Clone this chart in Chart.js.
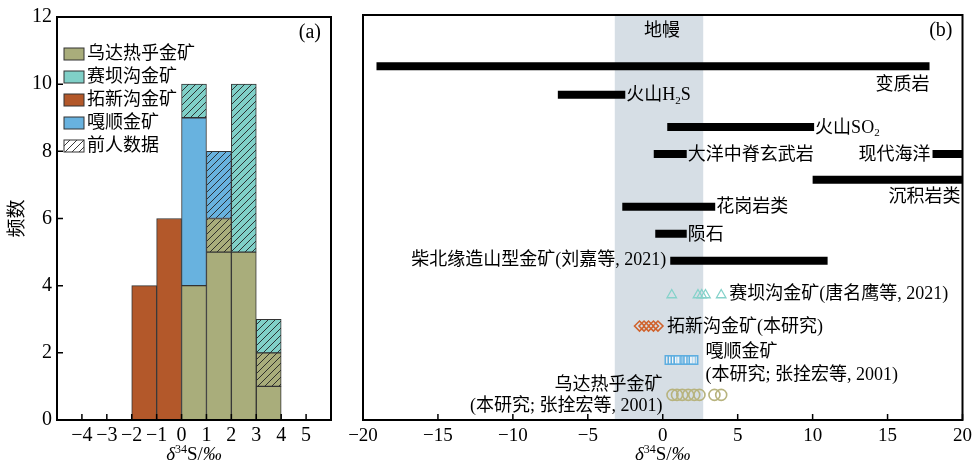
<!DOCTYPE html>
<html>
<head>
<meta charset="utf-8">
<script src="https://cdn.jsdelivr.net/npm/chart.js@4.4.1/dist/chart.umd.min.js"></script>
<style>
  html, body { margin: 0; padding: 0; background: #fff; }
  #wrap { position: relative; width: 977px; height: 469px; }
  #ca { position: absolute; left: 0; top: 0; }
  #cb { position: absolute; left: 340px; top: 0; }
</style>
</head>
<body>
<div id="wrap">
  <canvas id="ca" width="340" height="469"></canvas>
  <canvas id="cb" width="637" height="469"></canvas>
</div>
<script>
const SERIF = '"Liberation Serif", "Noto Sans CJK SC", serif';

// ---- (a) histogram data
const binCenters = [-1.5, -0.5, 0.5, 1.5, 2.5, 3.5];
const tuoxinCount = [4, 6, 0, 0, 0, 0];
const wudaCount = [0, 0, 4, 5, 5, 1];
const wudaPrevCount = [0, 0, 0, 1, 0, 1];
const gashunCount = [0, 0, 5, 0, 0, 0];
const gashunPrevCount = [0, 0, 0, 2, 0, 0];
const saibaPrevCount = [0, 0, 1, 0, 5, 1];
const xTicksA = [-4, -3, -2, -1, 0, 1, 2, 3, 4, 5];
const yTicksA = [0, 2, 4, 6, 8, 10, 12];
const legendNames = ['乌达热乎金矿', '赛坝沟金矿', '拓新沟金矿', '嘎顺金矿', '前人数据'];

// ---- (b) ranges and samples
const rangeNames = ['变质岩', '火山H2S', '火山SO2', '大洋中脊玄武岩', '现代海洋', '沉积岩类', '花岗岩类', '陨石', '柴北缘造山型金矿(刘嘉等, 2021)'];
const rangeMin = [-19.1, -7.0, 0.3, -0.6, 18.0, 10.0, -2.7, -0.5, 0.5];
const rangeMax = [17.8, -2.5, 10.1, 1.6, 20.0, 20.0, 3.5, 1.6, 11.0];
const rangeRow = [13.1, 12.05, 10.85, 9.85, 9.85, 8.9, 7.9, 6.9, 5.9];
const mantleRange = [-3.2, 2.7];
const saibaValues = [0.6, 2.35, 2.6, 2.85, 3.9];
const tuoxinValues = [-1.55, -1.25, -0.95, -0.62, -0.32];
const gashunValues = [0.45, 0.65, 0.85, 1.05, 1.5, 1.7, 1.9, 2.05];
const wudaValues = [0.65, 0.95, 1.3, 1.7, 2.1, 2.45, 3.45, 3.9];
const sampleRows = [4.63, 3.48, 2.22, 0.93];
const xTicksB = [-20, -15, -10, -5, 0, 5, 10, 15, 20];

const OLIVE = '#a9ad7b', CYAN = '#80d0c8', ORANGE = '#b3582a', BLUE = '#68b2df';

function fmt(v) { return v < 0 ? '\u2212' + Math.abs(v) : String(v); }

function hatch(color) {
  const c = document.createElement('canvas');
  c.width = c.height = 7;
  const g = c.getContext('2d');
  g.fillStyle = color; g.fillRect(0, 0, 7, 7);
  g.strokeStyle = '#222'; g.lineWidth = 0.9;
  g.beginPath();
  g.moveTo(0, 7); g.lineTo(7, 0);
  g.moveTo(-1, 1); g.lineTo(1, -1);
  g.moveTo(6, 8); g.lineTo(8, 6);
  g.stroke();
  return g.createPattern(c, 'repeat');
}

// rich text: list of {t, f, dy}
function drawRich(ctx, segs, x, y, align) {
  let w = 0;
  segs.forEach(s => { ctx.font = s.f; w += ctx.measureText(s.t).width; });
  let cx = align === 'right' ? x - w : align === 'center' ? x - w / 2 : x;
  ctx.textBaseline = 'middle';
  ctx.textAlign = 'left';
  segs.forEach(s => { ctx.font = s.f; ctx.fillText(s.t, cx, y + (s.dy || 0)); cx += ctx.measureText(s.t).width; });
}
function labelSegs(text, size) {
  const out = [], re = /([A-Z])(\d)(?!\d)/g;
  let last = 0, m;
  while ((m = re.exec(text))) {
    out.push({ t: text.slice(last, m.index + 1), f: size + 'px ' + SERIF });
    out.push({ t: m[2], f: Math.round(size * 0.6) + 'px ' + SERIF, dy: 5 });
    last = m.index + 2;
  }
  out.push({ t: text.slice(last), f: size + 'px ' + SERIF });
  return out;
}
function deltaTitle(ctx, cx, cy) {
  drawRich(ctx, [
    { t: 'δ', f: 'italic 19px ' + SERIF },
    { t: '34', f: '12px ' + SERIF, dy: -5 },
    { t: 'S/', f: '19px ' + SERIF },
    { t: '‰', f: 'italic 19px ' + SERIF }
  ], cx, cy, 'center');
}

// frame + inward ticks
const framePlugin = {
  id: 'frame',
  afterDraw(chart, args, opts) {
    const { ctx, chartArea: a, scales } = chart;
    ctx.save();
    ctx.strokeStyle = '#000';
    ctx.lineWidth = 1.5;
    ctx.beginPath();
    scales.x.ticks.forEach(t => {
      const px = scales.x.getPixelForValue(t.value);
      ctx.moveTo(px, a.bottom); ctx.lineTo(px, a.bottom - 6);
    });
    if (opts.yTicks) {
      scales.y.ticks.forEach(t => {
        const py = scales.y.getPixelForValue(t.value);
        ctx.moveTo(a.left, py); ctx.lineTo(a.left + 6, py);
      });
    }
    ctx.stroke();
    ctx.lineWidth = 2;
    ctx.strokeRect(a.left, a.top, a.right - a.left, a.bottom - a.top);
    ctx.fillStyle = '#000';
    deltaTitle(ctx, (a.left + a.right) / 2, 455);
    ctx.font = '20px ' + SERIF;
    ctx.textAlign = 'right';
    ctx.textBaseline = 'middle';
    ctx.fillText(opts.tag, a.right - 10, a.top + 16);
    ctx.restore();
  }
};

// ---------- panel (a)
const nz = arr => arr.map((v, i) => ({ x: binCenters[i], y: v || null }));
const barBase = { stack: 's', borderColor: '#333', borderWidth: 1, borderSkipped: false, barPercentage: 1, categoryPercentage: 1 };

const legendA = {
  id: 'legendA',
  afterDraw(chart) {
    const { ctx, chartArea: a } = chart;
    const fills = [OLIVE, CYAN, ORANGE, BLUE, hatch('#fff')];
    ctx.save();
    legendNames.forEach((name, i) => {
      const y = a.top + 37 + i * 23;
      ctx.fillStyle = fills[i];
      ctx.fillRect(a.left + 7, y - 6, 20, 12);
      ctx.strokeStyle = '#333'; ctx.lineWidth = 1;
      ctx.strokeRect(a.left + 7, y - 6, 20, 12);
      ctx.fillStyle = '#000';
      drawRich(ctx, [{ t: name, f: '18px ' + SERIF }], a.left + 30, y, 'left');
    });
    ctx.translate(18, (a.top + a.bottom) / 2);
    ctx.rotate(-Math.PI / 2);
    drawRich(ctx, [{ t: '频数', f: '19px ' + SERIF }], 0, 0, 'center');
    ctx.restore();
  }
};

new Chart(document.getElementById('ca'), {
  type: 'bar',
  data: {
    datasets: [
      { ...barBase, label: '拓新沟金矿', data: nz(tuoxinCount), backgroundColor: ORANGE },
      { ...barBase, label: '乌达热乎金矿', data: nz(wudaCount), backgroundColor: OLIVE },
      { ...barBase, label: '乌达热乎金矿 前人', data: nz(wudaPrevCount), backgroundColor: hatch(OLIVE) },
      { ...barBase, label: '嘎顺金矿', data: nz(gashunCount), backgroundColor: BLUE },
      { ...barBase, label: '嘎顺金矿 前人', data: nz(gashunPrevCount), backgroundColor: hatch(BLUE) },
      { ...barBase, label: '赛坝沟金矿 前人', data: nz(saibaPrevCount), backgroundColor: hatch(CYAN) }
    ]
  },
  options: {
    responsive: false,
    animation: false,
    layout: { padding: { top: 15, right: 9, left: 0, bottom: 0 } },
    plugins: { legend: { display: false }, tooltip: { enabled: false }, frame: { tag: '(a)', yTicks: true } },
    scales: {
      x: {
        type: 'linear', min: -5, max: 6, offset: false,
        grid: { display: false, drawTicks: false }, border: { display: false },
        afterBuildTicks: s => { s.ticks = xTicksA.map(v => ({ value: v })); },
        afterFit: s => { s.height = 49; },
        ticks: { autoSkip: false, maxRotation: 0, padding: 4, color: '#000', font: { family: SERIF, size: 20 }, callback: v => fmt(v) }
      },
      y: {
        min: 0, max: 12, stacked: true,
        grid: { display: false, drawTicks: false }, border: { display: false },
        afterBuildTicks: s => { s.ticks = yTicksA.map(v => ({ value: v })); },
        afterFit: s => { s.width = 57; },
        ticks: { padding: 5, color: '#000', font: { family: SERIF, size: 20 }, callback: v => fmt(v) }
      }
    }
  },
  plugins: [framePlugin, legendA]
});

// ---------- panel (b)
const mantlePlugin = {
  id: 'mantle',
  beforeDatasetsDraw(chart) {
    const { ctx, chartArea: a, scales: { x } } = chart;
    const x0 = x.getPixelForValue(mantleRange[0]), x1 = x.getPixelForValue(mantleRange[1]);
    ctx.save();
    ctx.fillStyle = '#d6dee5';
    ctx.fillRect(x0, a.top, x1 - x0, a.bottom - a.top);
    ctx.fillStyle = '#000';
    drawRich(ctx, [{ t: '地幔', f: '18px ' + SERIF }], (x0 + x1) / 2 + 3, a.top + 16, 'center');
    ctx.restore();
  }
};

const labelsB = {
  id: 'labelsB',
  afterDatasetsDraw(chart) {
    const { ctx, scales: { x, y } } = chart;
    const X = v => x.getPixelForValue(v), Y = v => y.getPixelForValue(v);
    // [index, anchor x px, align, dy]
    const place = [
      [0, X(rangeMax[0]), 'right', 19],
      [1, X(rangeMax[1]) + 1, 'left', 1],
      [2, X(rangeMax[2]) + 1, 'left', 1],
      [3, X(rangeMax[3]) + 1, 'left', 1],
      [4, X(rangeMin[4]) - 2, 'right', 1],
      [5, X(rangeMax[5]) - 2, 'right', 18],
      [6, X(rangeMax[6]) + 1, 'left', 1],
      [7, X(rangeMax[7]) + 1, 'left', 2],
      [8, X(rangeMin[8]) - 4, 'right', 0]
    ];
    ctx.save();
    ctx.fillStyle = '#000';
    place.forEach(([i, px, al, dy]) => drawRich(ctx, labelSegs(rangeNames[i], 18), px, Y(rangeRow[i]) + dy, al));
    const f = '18px ' + SERIF;
    drawRich(ctx, [{ t: '赛坝沟金矿(唐名鹰等, 2021)', f }], X(Math.max(...saibaValues)) + 8, Y(sampleRows[0]) - 1, 'left');
    drawRich(ctx, [{ t: '拓新沟金矿(本研究)', f }], X(Math.max(...tuoxinValues)) + 9, Y(sampleRows[1]) + 1, 'left');
    const gx = X(Math.max(...gashunValues)) + 12;
    drawRich(ctx, [{ t: '嘎顺金矿', f }], gx, Y(sampleRows[2]) - 8, 'left');
    drawRich(ctx, [{ t: '(本研究; 张拴宏等, 2001)', f }], gx, Y(sampleRows[2]) + 15, 'left');
    const wx = X(Math.min(...wudaValues)) - 10;
    drawRich(ctx, [{ t: '乌达热乎金矿', f }], wx, Y(sampleRows[3]) - 10, 'right');
    drawRich(ctx, [{ t: '(本研究; 张拴宏等, 2001)', f }], wx, Y(sampleRows[3]) + 11, 'right');
    ctx.restore();
  }
};

const rangeSets = rangeNames.map((n, i) => ({
  label: n,
  data: [{ x: rangeMin[i], y: rangeRow[i] }, { x: rangeMax[i], y: rangeRow[i] }],
  showLine: true, pointRadius: 0, borderColor: '#000', borderWidth: 8, borderCapStyle: 'butt'
}));
const pts = (vals, row) => vals.map(v => ({ x: v, y: row }));

new Chart(document.getElementById('cb'), {
  type: 'scatter',
  data: {
    datasets: [
      ...rangeSets,
      { label: '赛坝沟金矿', data: pts(saibaValues, sampleRows[0]), pointStyle: 'triangle', pointRadius: 5.5, borderColor: '#85d2ca', backgroundColor: 'rgba(255,255,255,0)', borderWidth: 1.3 },
      { label: '拓新沟金矿', data: pts(tuoxinValues, sampleRows[1]), pointStyle: 'rectRot', pointRadius: 5, borderColor: '#d0622c', backgroundColor: 'rgba(255,255,255,0)', borderWidth: 1.6 },
      { label: '嘎顺金矿', data: pts(gashunValues, sampleRows[2]), pointStyle: 'rect', pointRadius: 6, borderColor: '#5eaee0', backgroundColor: 'rgba(255,255,255,0.35)', borderWidth: 1.5 },
      { label: '乌达热乎金矿', data: pts(wudaValues, sampleRows[3]), pointStyle: 'circle', pointRadius: 5.5, borderColor: '#b7b37e', backgroundColor: 'rgba(255,255,255,0)', borderWidth: 1.6 }
    ]
  },
  options: {
    responsive: false,
    animation: false,
    layout: { padding: { top: 15, right: 13, left: 0, bottom: 0 } },
    plugins: { legend: { display: false }, tooltip: { enabled: false }, frame: { tag: '(b)', yTicks: false } },
    scales: {
      x: {
        type: 'linear', min: -20, max: 20,
        grid: { display: false, drawTicks: false }, border: { display: false },
        afterBuildTicks: s => { s.ticks = xTicksB.map(v => ({ value: v })); },
        afterFit: s => { s.height = 49; },
        ticks: { autoSkip: false, maxRotation: 0, padding: 5, color: '#000', font: { family: SERIF, size: 19 }, callback: v => fmt(v) }
      },
      y: {
        min: 0, max: 15,
        grid: { display: false, drawTicks: false }, border: { display: false },
        ticks: { display: false },
        afterFit: s => { s.width = 23; }
      }
    }
  },
  plugins: [mantlePlugin, labelsB, framePlugin]
});
</script>
</body>
</html>
